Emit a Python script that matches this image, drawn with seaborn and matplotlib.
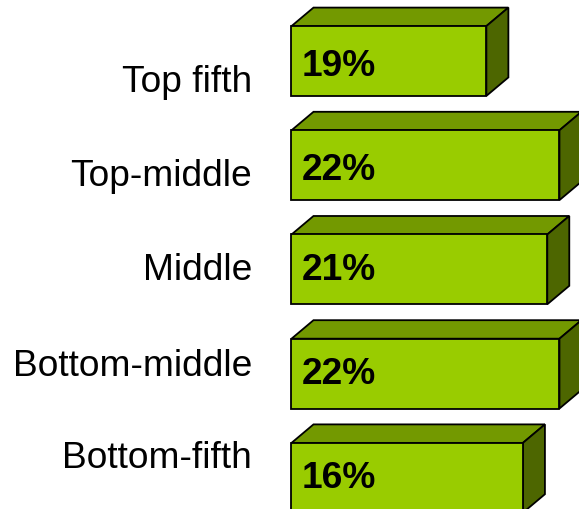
import matplotlib
matplotlib.use("Agg")
import matplotlib.pyplot as plt
from matplotlib.patches import Polygon
import pandas as pd
import seaborn as sns

# Values
categories = ["Top fifth", "Top-middle", "Middle", "Bottom-middle", "Bottom-fifth"]
bar_lengths = [16, 22, 21, 22, 19]
bar_labels = ["19%", "22%", "21%", "22%", "16%"]

W, H = 579, 509
sns.set_theme(style="white")
plt.rcParams["font.family"] = ["Liberation Sans", "DejaVu Sans"]

data = pd.DataFrame({"category": categories, "share": bar_lengths})

fig = plt.figure(figsize=(W / 100, H / 100), dpi=100)
ax = fig.add_axes([0, 0, 1, 1])
sns.barplot(data=data, y="category", x="share", color="#99CC00", saturation=1,
            width=0.67, edgecolor="black", linewidth=1.3, zorder=3, ax=ax)

# pixel mapping: zero at x=291.5, 12.18 px per percent, 104.25 px per row
x0, px_per_x = 291.5, 12.18
y0, px_per_y = 61, 104.2
ax.set_xlim(-x0 / px_per_x, (W - x0) / px_per_x)
ax.set_ylim((H - y0) / px_per_y, -y0 / px_per_y)
ax.axis("off")

# 3D faces on the top and right of each bar
dx, dy = 22 / px_per_x, 18.5 / px_per_y
for bar in ax.patches[:len(categories)]:
    x, y = bar.get_x(), bar.get_y()
    w, h = bar.get_width(), bar.get_height()
    ax.add_patch(Polygon([(x, y), (x + dx, y - dy), (x + w + dx, y - dy), (x + w, y)],
                         fc="#739900", ec="black", lw=1.3, zorder=2))
    ax.add_patch(Polygon([(x + w, y), (x + w + dx, y - dy), (x + w + dx, y + h - dy), (x + w, y + h)],
                         fc="#4D6600", ec="black", lw=1.3, zorder=2))

# category names do not line up with the bars in the original
name_y = [83, 176, 271, 366, 459]
for name, py in zip(categories, name_y):
    ax.annotate(name, xy=(252, H - py), xycoords="figure pixels", ha="right",
                va="center", fontsize=26.7, color="black")

value_y = [66.5, 170, 271, 374, 478]
for label, py in zip(bar_labels, value_y):
    ax.annotate(label, xy=(302, H - py), xycoords="figure pixels", ha="left",
                va="center", fontsize=26.7, fontweight="bold", color="black")

fig.savefig("out.png", dpi=100)
